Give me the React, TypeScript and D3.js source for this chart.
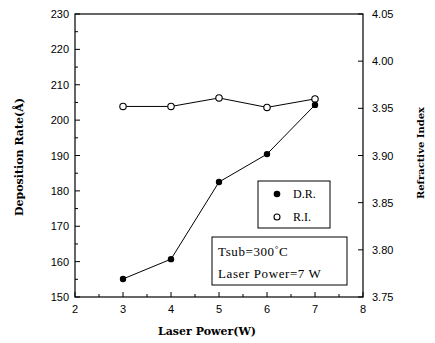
import React from "react";
import * as d3 from "d3";

const laserPower = [3, 4, 5, 6, 7];
const depositionRate = [155.1, 160.7, 182.5, 190.4, 204.3];
const refractiveIndex = [3.952, 3.952, 3.961, 3.951, 3.96];
const xTicks = [2, 3, 4, 5, 6, 7, 8];
const leftTicks = [150, 160, 170, 180, 190, 200, 210, 220, 230];
const rightTicks = [3.75, 3.8, 3.85, 3.9, 3.95, 4.0, 4.05];

export default function App() {
  const L = 75, R = 363, T = 14, B = 297;
  const x = d3.scaleLinear().domain([2, 8]).range([L, R]);
  const yL = d3.scaleLinear().domain([150, 230]).range([B, T]);
  const yR = d3.scaleLinear().domain([3.75, 4.05]).range([B, T]);
  const line = d3.line<number>();
  const drPts = laserPower.map((p, i) => [x(p), yL(depositionRate[i])] as [number, number]);
  const riPts = laserPower.map((p, i) => [x(p), yR(refractiveIndex[i])] as [number, number]);
  const xMinor = d3.range(2.5, 8, 1);
  const leftMinor = d3.range(155, 230, 10);
  const tickFont = "'Liberation Sans', Arial, sans-serif";
  const labelFont = "'DejaVu Serif', 'Liberation Serif', serif";
  const boxFont = "'Liberation Serif', serif";
  return (
    <svg width={435} height={343} style={{ position: "absolute", left: 0, top: 0, background: "#fff" }}>
      <rect x={L} y={T} width={R - L} height={B - T} fill="none" stroke="#000" strokeWidth={1.2} />
      {xTicks.map((t) => (
        <g key={"x" + t}>
          <line x1={x(t)} x2={x(t)} y1={B} y2={B - 5} stroke="#000" />
          <text x={x(t)} y={B + 16} fontSize={11} fontFamily={tickFont} textAnchor="middle">{t}</text>
        </g>
      ))}
      {xMinor.map((t) => (
        <line key={"xm" + t} x1={x(t)} x2={x(t)} y1={B} y2={B - 3} stroke="#000" />
      ))}
      {leftTicks.map((t) => (
        <g key={"l" + t}>
          <line x1={L} x2={L + 5} y1={yL(t)} y2={yL(t)} stroke="#000" />
          <text x={L - 6} y={yL(t) + 4} fontSize={11} fontFamily={tickFont} textAnchor="end">{t}</text>
        </g>
      ))}
      {leftMinor.map((t) => (
        <line key={"lm" + t} x1={L} x2={L + 3} y1={yL(t)} y2={yL(t)} stroke="#000" />
      ))}
      {rightTicks.map((t) => (
        <g key={"r" + t}>
          <line x1={R} x2={R - 5} y1={yR(t)} y2={yR(t)} stroke="#000" />
          <text x={R + 9} y={yR(t) + 4} fontSize={11} fontFamily={tickFont} textAnchor="start">{t.toFixed(2)}</text>
        </g>
      ))}
      <path d={line(riPts) || ""} fill="none" stroke="#000" strokeWidth={1} />
      <path d={line(drPts) || ""} fill="none" stroke="#000" strokeWidth={1} />
      {riPts.map((p, i) => (
        <circle key={"ri" + i} cx={p[0]} cy={p[1]} r={3.2} fill="#fff" stroke="#000" strokeWidth={1.1} />
      ))}
      {drPts.map((p, i) => (
        <circle key={"dr" + i} cx={p[0]} cy={p[1]} r={3.2} fill="#000" />
      ))}
      <rect x={258} y={181} width={72} height={47} fill="#fff" stroke="#000" strokeWidth={1} />
      <circle cx={277} cy={194} r={3.3} fill="#000" />
      <text x={293} y={198} fontSize={12} fontFamily={boxFont}>D.R.</text>
      <circle cx={277} cy={217} r={3} fill="#fff" stroke="#000" strokeWidth={1.1} />
      <text x={293} y={221} fontSize={12} fontFamily={boxFont}>R.I.</text>
      <rect x={212} y={237} width={135} height={48} fill="#fff" stroke="#000" strokeWidth={1} />
      <text x={218} y={256} fontSize={13} letterSpacing={0.6} fontFamily={boxFont}>Tsub=300<tspan fontSize={9} dy={-4}>°</tspan><tspan dy={4}>C</tspan></text>
      <text x={218} y={278} fontSize={13} letterSpacing={0.6} fontFamily={boxFont}>Laser Power=7 W</text>
      <text x={207} y={335} fontSize={11} fontWeight="bold" fontFamily={labelFont} textAnchor="middle">Laser Power(W)</text>
      <text transform={`translate(23,157) rotate(-90)`} fontSize={11} fontWeight="bold" fontFamily={labelFont} textAnchor="middle">Deposition Rate(Å)</text>
      <text transform={`translate(424,153) rotate(-90)`} fontSize={10} fontWeight="bold" fontFamily={labelFont} textAnchor="middle">Refractive Index</text>
    </svg>
  );
}
